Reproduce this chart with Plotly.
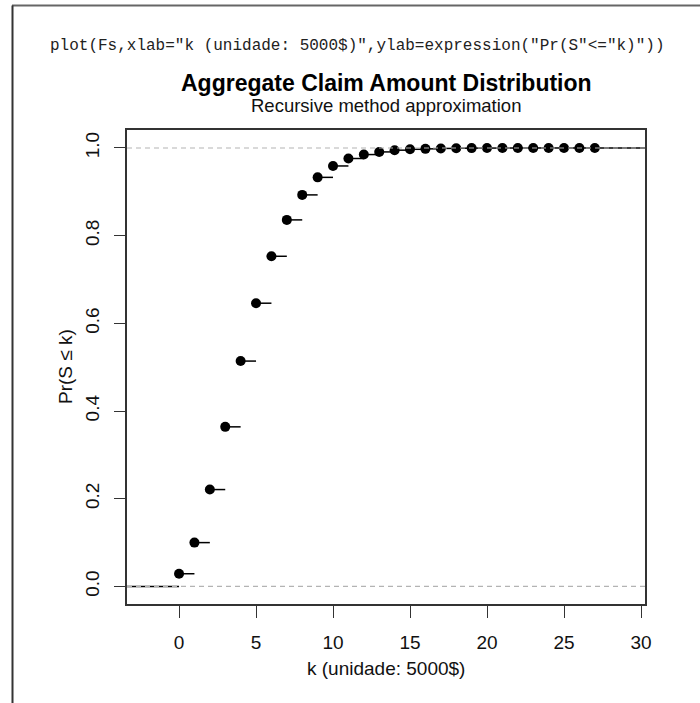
import plotly.graph_objects as go

# Cumulative distribution of the aggregate claim amount S (recursive method)
k_values = list(range(0, 28))
cdf_values = [
    0.029, 0.100, 0.221, 0.364, 0.514, 0.646, 0.753, 0.836, 0.893, 0.933,
    0.959, 0.976, 0.985, 0.991, 0.995, 0.997, 0.998, 0.999, 0.9995, 0.9997,
    0.9998, 0.9999, 1.0, 1.0, 1.0, 1.0, 1.0, 1.0,
]
x_ticks = [0, 5, 10, 15, 20, 25, 30]
y_ticks = [0.0, 0.2, 0.4, 0.6, 0.8, 1.0]
y_tick_text = ["0.0", "0.2", "0.4", "0.6", "0.8", "1.0"]

code_line = 'plot(Fs,xlab="k (unidade: 5000$)",ylab=expression("Pr(S"<="k)"))'
title_text = "Aggregate Claim Amount Distribution"
subtitle_text = "Recursive method approximation"
x_title = "k (unidade: 5000$)"
y_title = "Pr(S ≤ k)"

x_range = [-3.38, 30.26]
y_range = [-0.04, 1.041]

W, H = 700, 703
L, R, T, B = 127, 55, 130, 99
plot_w = W - L - R
plot_h = H - T - B


def px(x):
    return (x - L) / plot_w


def py(y):
    return (H - B - y) / plot_h


# horizontal pieces of the step function: each level runs to the next knot
seg_x, seg_y = [x_range[0], k_values[0], None], [0, 0, None]
for i, (k, f) in enumerate(zip(k_values, cdf_values)):
    nxt = k_values[i + 1] if i + 1 < len(k_values) else x_range[1]
    seg_x += [k, nxt, None]
    seg_y += [f, f, None]

fig = go.Figure()
fig.add_trace(go.Scatter(
    x=seg_x, y=seg_y, mode="lines",
    line=dict(color="black", width=1.5),
    hoverinfo="skip", showlegend=False,
))
fig.add_trace(go.Scatter(
    x=k_values, y=cdf_values, mode="markers",
    marker=dict(color="black", size=10),
    showlegend=False,
))

# reference lines at 0 and 1
for level in (0, 1):
    fig.add_shape(
        type="line", xref="paper", yref="y", x0=0, x1=1, y0=level, y1=level,
        line=dict(color="#b3b3b3", width=1.2, dash="5px,4px"), layer="above",
    )

# page frame
fig.add_shape(type="line", xref="paper", yref="paper",
              x0=px(12), x1=px(700), y0=py(5.5), y1=py(5.5),
              line=dict(color="#666666", width=2))
fig.add_shape(type="line", xref="paper", yref="paper",
              x0=px(12.5), x1=px(12.5), y0=py(5.5), y1=py(703),
              line=dict(color="#333333", width=2))

axis_font = dict(family="Liberation Sans, Arial, sans-serif", size=19, color="#111111")

fig.add_annotation(text=code_line, xref="paper", yref="paper",
                   x=px(357), y=py(46), showarrow=False,
                   xanchor="center", yanchor="middle",
                   font=dict(family="Liberation Mono, Courier New, monospace", size=16, color="#222222"))
fig.add_annotation(text="<b>" + title_text + "</b>", xref="paper", yref="paper",
                   x=px(386), y=py(83), showarrow=False,
                   xanchor="center", yanchor="middle",
                   font=dict(family="Liberation Sans, Arial, sans-serif", size=23, color="#000000"))
fig.add_annotation(text=subtitle_text, xref="paper", yref="paper",
                   x=px(386), y=py(106), showarrow=False,
                   xanchor="center", yanchor="middle",
                   font=dict(family="Liberation Sans, Arial, sans-serif", size=18.5, color="#111111"))
fig.add_annotation(text=x_title, xref="paper", yref="paper",
                   x=0.5, y=py(668), showarrow=False,
                   xanchor="center", yanchor="middle", font=axis_font)
fig.add_annotation(text=y_title, xref="paper", yref="paper",
                   x=px(65), y=0.5, showarrow=False, textangle=-90,
                   xanchor="center", yanchor="middle", font=axis_font)

fig.update_xaxes(
    range=x_range, tickvals=x_ticks, ticks="outside", ticklen=12, tickwidth=1.3,
    tickcolor="#333333", showline=True, linecolor="#333333", linewidth=1.5,
    mirror=True, showgrid=False, zeroline=False, tickfont=axis_font,
    ticklabelstandoff=8,
)
fig.update_yaxes(
    range=y_range, tickvals=y_ticks, ticktext=y_tick_text, ticks="outside",
    ticklen=11, tickwidth=1.3, tickcolor="#333333", showline=True,
    linecolor="#333333", linewidth=1.5, mirror=True, showgrid=False,
    zeroline=False, tickfont=axis_font, tickangle=-90, ticklabelstandoff=8,
)
fig.update_layout(
    width=W, height=H, margin=dict(l=L, r=R, t=T, b=B, pad=0),
    paper_bgcolor="white", plot_bgcolor="white",
)

fig.write_html("out.html")
